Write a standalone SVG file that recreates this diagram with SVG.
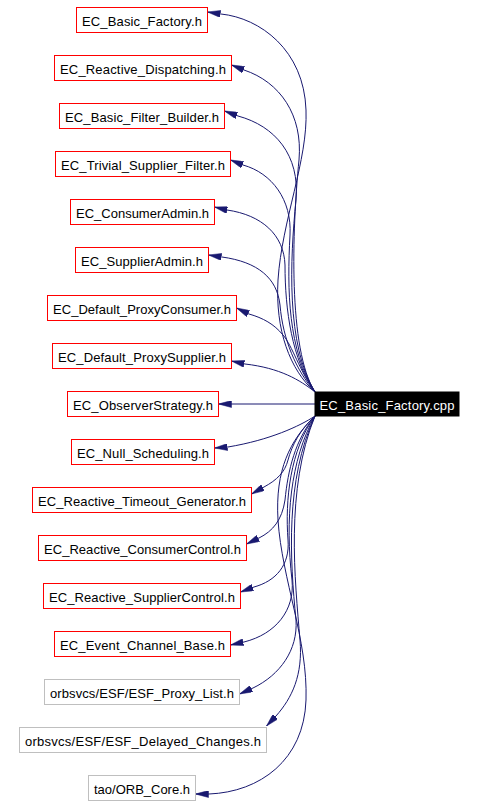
<svg xmlns="http://www.w3.org/2000/svg" width="478" height="806" viewBox="0 0 478 806">
<style>
  .bg { fill: #ffffff; }
  .node rect { fill: #ffffff; stroke: #ff0000; stroke-width: 1; }
  .node.ext rect { stroke: #bfbfbf; }
  .node text { font-family: "Liberation Sans", Arial, sans-serif; font-size: 13px; fill: #000000; text-anchor: middle; }
  #src rect { fill: #000000; stroke: #000000; }
  #src text { fill: #ffffff; }
  .edges path { fill: none; stroke: #191970; stroke-width: 1; marker-end: url(#arr); }
</style>
<defs>
  <marker id="arr" viewBox="0 0 13 7" refX="13" refY="3.5" markerWidth="13" markerHeight="7" markerUnits="userSpaceOnUse" orient="auto">
    <path d="M0,0 L13,3.5 L0,7 z" fill="#191970" stroke="#191970" stroke-width="0.5"/>
  </marker>
</defs>
<rect class="bg" x="0" y="0" width="478" height="806"/>

<g class="edges" id="connectors">
  <path d="M315,392 C290,370 275,330 278,280 C282,220 308,160 306,110 C304,50 260,18 221,14 L207.5,12"/>
  <path d="M315,392 C288,350 292,230 299,160 C303,115 280,82 244,70 L231.5,65"/>
  <path d="M315,392 C286,345 290,260 296,200 C300,155 275,126 238,116 L224.5,111"/>
  <path d="M315,392 C288,350 287,290 290,235 C292,200 272,173 243,165 L230.5,160"/>
  <path d="M315,392 C292,360 285,310 285,265 C284,235 262,215 227,210 L214.5,207"/>
  <path d="M315,392 C296,370 283,340 280,305 C277,278 258,262 222,257 L208.5,255"/>
  <path d="M315,392 C300,372 292,345 283,335 C274,324 263,318 249,314 L236.5,308"/>
  <path d="M315,392 C300,380 280,368 245,364 L231.5,361"/>
  <path d="M315,404 L231,404 L218.5,404"/>
  <path d="M315,416 C300,426 270,440 228,447 L214.5,448"/>
  <path d="M315,416 C300,430 292,445 288,460 C285,472 277,480 264,487 L251.5,494"/>
  <path d="M315,416 C295,440 288,470 285,500 C282,520 273,531 259,538 L246.5,544"/>
  <path d="M315,416 C290,450 285,500 288,540 C290,565 276,581 254,587 L240.5,592"/>
  <path d="M315,416 C290,460 285,520 292,580 C295,610 276,634 244,642 L230.5,645"/>
  <path d="M315,416 C285,480 290,560 296,620 C298,650 280,675 253,688 L239.5,694"/>
  <path d="M315,416 C285,490 295,580 300,640 C303,675 292,698 276,716 L266.5,726"/>
  <path d="M315,416 C290,440 275,470 278,520 C282,580 308,640 306,700 C304,760 260,792 209,794 L195.5,794"/>
</g>

<g class="node" id="src"><rect x="315" y="392" width="144" height="24"/><text x="387" y="410" textLength="135" lengthAdjust="spacing">EC_Basic_Factory.cpp</text></g>
<g class="node" id="n1"><rect x="76.5" y="7.5" width="131" height="25"/><text x="142" y="26" textLength="120" lengthAdjust="spacing">EC_Basic_Factory.h</text></g>
<g class="node" id="n2"><rect x="54.5" y="55.5" width="177" height="25"/><text x="143" y="74" textLength="166" lengthAdjust="spacing">EC_Reactive_Dispatching.h</text></g>
<g class="node" id="n3"><rect x="59.5" y="103.5" width="165" height="25"/><text x="142" y="122" textLength="154" lengthAdjust="spacing">EC_Basic_Filter_Builder.h</text></g>
<g class="node" id="n4"><rect x="55.5" y="151.5" width="175" height="25"/><text x="143" y="170" textLength="164" lengthAdjust="spacing">EC_Trivial_Supplier_Filter.h</text></g>
<g class="node" id="n5"><rect x="70.5" y="199.5" width="144" height="25"/><text x="142.5" y="218" textLength="133" lengthAdjust="spacing">EC_ConsumerAdmin.h</text></g>
<g class="node" id="n6"><rect x="75.5" y="247.5" width="133" height="25"/><text x="142" y="266" textLength="122" lengthAdjust="spacing">EC_SupplierAdmin.h</text></g>
<g class="node" id="n7"><rect x="47.5" y="295.5" width="189" height="25"/><text x="142" y="314" textLength="178" lengthAdjust="spacing">EC_Default_ProxyConsumer.h</text></g>
<g class="node" id="n8"><rect x="52.5" y="343.5" width="179" height="25"/><text x="142" y="362" textLength="168" lengthAdjust="spacing">EC_Default_ProxySupplier.h</text></g>
<g class="node" id="n9"><rect x="67.5" y="391.5" width="151" height="25"/><text x="143" y="410" textLength="140" lengthAdjust="spacing">EC_ObserverStrategy.h</text></g>
<g class="node" id="n10"><rect x="71.5" y="439.5" width="143" height="25"/><text x="143" y="458" textLength="132" lengthAdjust="spacing">EC_Null_Scheduling.h</text></g>
<g class="node" id="n11"><rect x="32.5" y="487.5" width="219" height="25"/><text x="142" y="506" textLength="208" lengthAdjust="spacing">EC_Reactive_Timeout_Generator.h</text></g>
<g class="node" id="n12"><rect x="38.5" y="535.5" width="208" height="25"/><text x="142.5" y="554" textLength="197" lengthAdjust="spacing">EC_Reactive_ConsumerControl.h</text></g>
<g class="node" id="n13"><rect x="43.5" y="583.5" width="197" height="25"/><text x="142" y="602" textLength="186" lengthAdjust="spacing">EC_Reactive_SupplierControl.h</text></g>
<g class="node" id="n14"><rect x="54.5" y="631.5" width="176" height="25"/><text x="142.5" y="650" textLength="165" lengthAdjust="spacing">EC_Event_Channel_Base.h</text></g>
<g class="node ext" id="n15"><rect x="44.5" y="679.5" width="195" height="25"/><text x="142" y="698" textLength="184" lengthAdjust="spacing">orbsvcs/ESF/ESF_Proxy_List.h</text></g>
<g class="node ext" id="n16"><rect x="19.5" y="727.5" width="247" height="25"/><text x="143" y="746" textLength="236" lengthAdjust="spacing">orbsvcs/ESF/ESF_Delayed_Changes.h</text></g>
<g class="node ext" id="n17"><rect x="88.5" y="775.5" width="107" height="25"/><text x="142" y="794" textLength="96" lengthAdjust="spacing">tao/ORB_Core.h</text></g>
</svg>
